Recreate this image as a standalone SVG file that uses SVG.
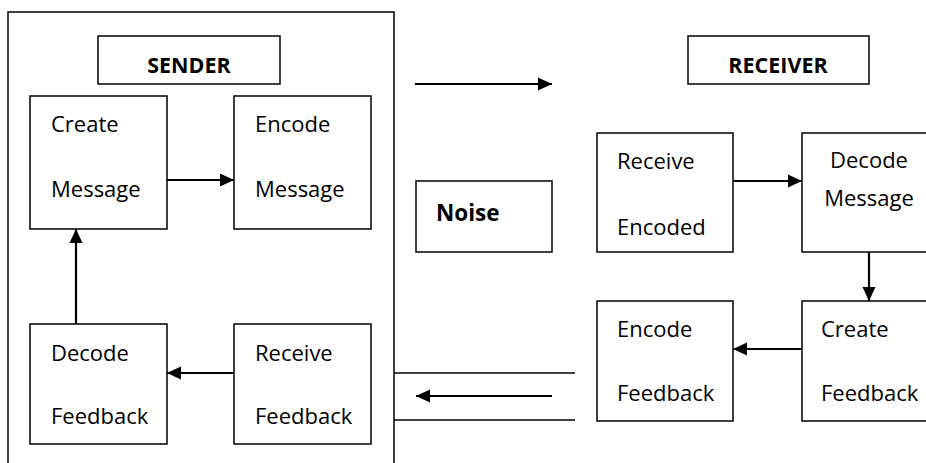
<svg xmlns="http://www.w3.org/2000/svg" width="926" height="463" viewBox="0 0 926 463">
<defs>
<style>
.box{fill:#fff;stroke:#000;stroke-width:1.5}
.ln{fill:none;stroke:#000;stroke-width:1.5}
.arr{fill:none;stroke:#000;stroke-width:2.2}
.t{font-family:"Open Sans","Liberation Sans",sans-serif;font-size:22px;fill:#000}
.b{font-family:"Open Sans","Liberation Sans",sans-serif;font-size:21.5px;font-weight:bold;fill:#000}
</style>
<marker id="ah" markerWidth="14" markerHeight="14" viewBox="0 0 14 14" refX="14" refY="7" orient="auto" markerUnits="userSpaceOnUse">
<path d="M0,0.5 L14,7 L0,13.5 Z" fill="#000"/>
</marker>
</defs>
<rect width="926" height="463" fill="#fff"/>
<g id="sender-frame">
<path class="ln" d="M8,463 V12 H394 V463"/>
</g>
<g id="sender">
<rect class="box" x="98" y="36" width="182" height="48"/>
<text class="b" x="189" y="73" text-anchor="middle">SENDER</text>
</g>
<g id="receiver">
<rect class="box" x="688" y="36" width="181" height="48"/>
<text class="b" x="778" y="73" text-anchor="middle">RECEIVER</text>
</g>
<g id="create-message">
<rect class="box" x="30" y="96" width="137" height="133"/>
<text class="t" x="51" y="132">Create</text>
<text class="t" x="51" y="197">Message</text>
</g>
<g id="encode-message">
<rect class="box" x="234" y="96" width="137" height="133"/>
<text class="t" x="255" y="132">Encode</text>
<text class="t" x="255" y="197">Message</text>
</g>
<g id="decode-feedback">
<rect class="box" x="30" y="324" width="137" height="120"/>
<text class="t" x="51" y="361">Decode</text>
<text class="t" x="51" y="424">Feedback</text>
</g>
<g id="receive-feedback">
<rect class="box" x="234" y="324" width="137" height="120"/>
<text class="t" x="255" y="361">Receive</text>
<text class="t" x="255" y="424">Feedback</text>
</g>
<g id="noise">
<rect class="box" x="416" y="181" width="136" height="71"/>
<text class="b" x="436" y="221" style="font-size:22.5px">Noise</text>
</g>
<g id="receive-encoded">
<rect class="box" x="597" y="133" width="136" height="119"/>
<text class="t" x="617" y="169">Receive</text>
<text class="t" x="617" y="235">Encoded</text>
</g>
<g id="decode-message">
<rect class="box" x="802" y="133" width="140" height="119"/>
<text class="t" x="869" y="168" text-anchor="middle">Decode</text>
<text class="t" x="869" y="206" text-anchor="middle">Message</text>
</g>
<g id="encode-feedback">
<rect class="box" x="597" y="301" width="136" height="120"/>
<text class="t" x="617" y="337">Encode</text>
<text class="t" x="617" y="401">Feedback</text>
</g>
<g id="create-feedback">
<rect class="box" x="802" y="301" width="140" height="120"/>
<text class="t" x="821" y="337">Create</text>
<text class="t" x="821" y="401">Feedback</text>
</g>
<g id="connectors">
<line class="arr" x1="167" y1="180" x2="234" y2="180" marker-end="url(#ah)"/>
<line class="arr" x1="76" y1="324" x2="76" y2="229" marker-end="url(#ah)"/>
<line class="arr" x1="234" y1="373" x2="167" y2="373" marker-end="url(#ah)"/>
<line class="arr" x1="415" y1="84" x2="552" y2="84" marker-end="url(#ah)"/>
<line class="arr" x1="733" y1="181" x2="802" y2="181" marker-end="url(#ah)"/>
<line class="arr" x1="869" y1="252" x2="869" y2="301" marker-end="url(#ah)"/>
<line class="arr" x1="802" y1="349" x2="733" y2="349" marker-end="url(#ah)"/>
<line class="arr" x1="552" y1="396" x2="416" y2="396" marker-end="url(#ah)"/>
<line class="ln" x1="394" y1="373" x2="575" y2="373"/>
<line class="ln" x1="394" y1="420" x2="575" y2="420"/>
</g>
</svg>
